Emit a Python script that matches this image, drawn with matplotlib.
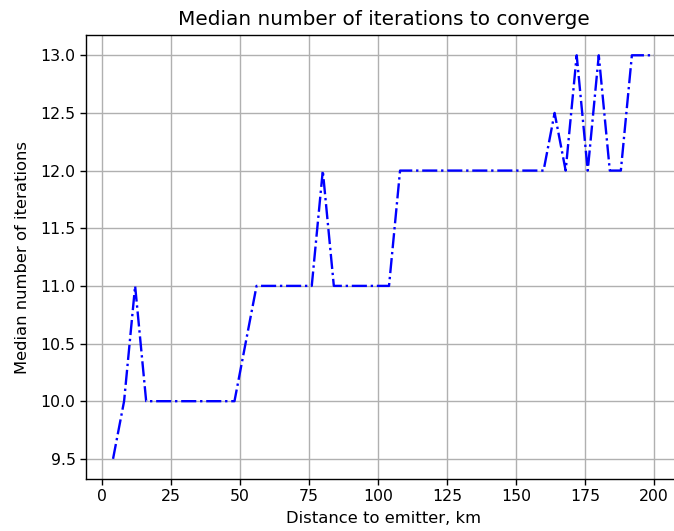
import matplotlib
matplotlib.use("Agg")
import matplotlib.pyplot as plt

# distance to emitter (km) and median iteration count
distance_km = [4, 8, 12, 16, 20, 24, 28, 32, 36, 40,
               44, 48, 52, 56, 60, 64, 68, 72, 76, 80,
               84, 88, 92, 96, 100, 104, 108, 112, 116, 120,
               124, 128, 132, 136, 140, 144, 148, 152, 156, 160,
               164, 168, 172, 176, 180, 184, 188, 192, 196, 200]
median_iters = [9.5, 10, 11, 10, 10, 10, 10, 10, 10, 10,
                10, 10, 10.5, 11, 11, 11, 11, 11, 11, 12,
                11, 11, 11, 11, 11, 11, 12, 12, 12, 12,
                12, 12, 12, 12, 12, 12, 12, 12, 12, 12,
                12.5, 12, 13, 12, 13, 12, 12, 13, 13, 13]

fs = 11.3
fig = plt.figure(figsize=(6.74, 5.31), dpi=100)
ax = fig.add_axes([0.1276, 0.0979, 0.8828, 0.836])
ax.plot(distance_km, median_iters, 'b-.', linewidth=1.7)
ax.grid(True, linewidth=1.0)
ax.set_title("Median number of iterations to converge", fontsize=14.4, pad=7)
ax.set_xlabel("Distance to emitter, km", fontsize=11.8, labelpad=5)
ax.set_ylabel("Median number of iterations", fontsize=11.8, labelpad=7.5)
ax.tick_params(labelsize=fs, width=1.0, length=4)
for s in ax.spines.values():
    s.set_linewidth(1.0)
ax.spines['right'].set_visible(False)

fig.savefig("out.png", dpi=100)
